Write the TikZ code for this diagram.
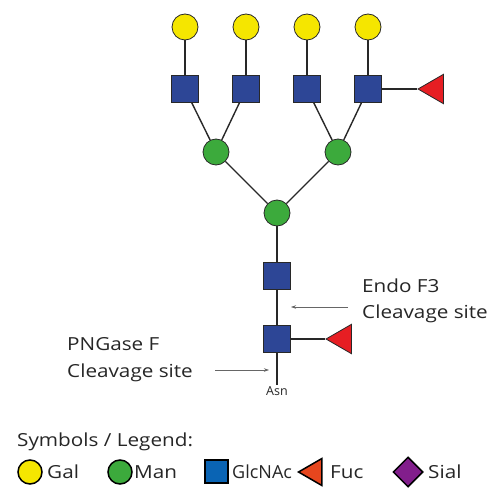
\documentclass[tikz,border=0pt]{standalone}
\usepackage{fontspec}
\setmainfont{Open Sans}[FakeStretch=1.15]
\newfontfamily\asnfont{Open Sans}
\usetikzlibrary{shapes.geometric,arrows.meta}
\definecolor{galY}{RGB}{245,230,0}
\definecolor{manG}{RGB}{60,170,60}
\definecolor{glcB}{RGB}{45,70,150}
\definecolor{fucR}{RGB}{230,30,35}
\definecolor{legB}{RGB}{10,100,180}
\definecolor{legR}{RGB}{230,70,30}
\definecolor{sialP}{RGB}{130,30,140}
\definecolor{lineG}{RGB}{40,40,40}
\tikzset{
  gal/.style={circle,fill=galY,draw=lineG,line width=0.8pt,minimum size=26pt,inner sep=0pt},
  man/.style={circle,fill=manG,draw=lineG,line width=0.8pt,minimum size=26pt,inner sep=0pt},
  glc/.style={rectangle,fill=glcB,draw=lineG,line width=0.8pt,minimum size=26.5pt,inner sep=0pt},
  fuc/.style={regular polygon,regular polygon sides=3,shape border rotate=90,fill=fucR,draw=lineG,line width=0.8pt,inner sep=0pt,minimum size=34pt},
  bond/.style={draw=lineG,line width=1.4pt},
  cut/.style={draw=gray!80!black,line width=0.6pt,-{Stealth[length=5pt,width=3.5pt]}},
  lbl/.style={font=\fontsize{18}{22}\selectfont,anchor=base west,inner sep=0pt,text=black!85},
  lgal/.style={circle,fill=galY,draw=black,line width=1.5pt,minimum size=24pt,inner sep=0pt},
  lman/.style={circle,fill=manG,draw=black,line width=1.5pt,minimum size=24pt,inner sep=0pt},
  lglc/.style={rectangle,fill=legB,draw=black,line width=1.5pt,minimum size=23pt,inner sep=0pt},
  lfuc/.style={regular polygon,regular polygon sides=3,shape border rotate=90,fill=legR,draw=black,line width=1.5pt,inner sep=0pt,minimum size=31pt},
  lsia/.style={diamond,fill=sialP,draw=black,line width=1.5pt,inner sep=0pt,minimum width=30pt,minimum height=30pt}
}
\begin{document}
\begin{tikzpicture}[x=1pt,y=-1pt]
\useasboundingbox (0,0) rectangle (500,500);
% top Gal
\node[gal] (g1) at (185,27) {};
\node[gal] (g2) at (246,27) {};
\node[gal] (g3) at (307,27) {};
\node[gal] (g4) at (368,27) {};
% GlcNAc row
\node[glc] (n1) at (185,89) {};
\node[glc] (n2) at (246,89) {};
\node[glc] (n3) at (307,89) {};
\node[glc] (n4) at (368,89) {};
\node[fuc] (f1) at (435,89) {};
% Man
\node[man] (m1) at (216,152) {};
\node[man] (m2) at (338,152) {};
\node[man] (m3) at (277,213) {};
% core
\node[glc] (c1) at (277,276) {};
\node[glc] (c2) at (277,339) {};
\node[fuc] (f2) at (343,339) {};
\coordinate (asnend) at (277,385);
\node[font=\asnfont\fontsize{12.5}{14}\selectfont,anchor=base,inner sep=0pt,text=black!85] (asn) at (277,395) {Asn};
% bonds
\draw[bond] (g1) -- (n1);
\draw[bond] (g2) -- (n2);
\draw[bond] (g3) -- (n3);
\draw[bond] (g4) -- (n4);
\draw[bond] (n4.east) -- (f1.west);
\draw[bond] (n1) -- (m1);
\draw[bond] (n2) -- (m1);
\draw[bond] (n3) -- (m2);
\draw[bond] (n4) -- (m2);
\draw[bond] (m1) -- (m3);
\draw[bond] (m2) -- (m3);
\draw[bond] (m3) -- (c1);
\draw[bond] (c1) -- (c2);
\draw[bond] (c2.east) -- (f2.west);
\draw[bond] (c2) -- (asnend);
% cleavage labels
\node[lbl] (endo1) at (362,292) {Endo F3};
\node[lbl] (endo2) at (362,318) {Cleavage site};
\coordinate (endoS) at (348,307);
\coordinate (endoT) at (291,307);
\draw[cut] (endoS) -- (endoT);
\node[lbl] (png1) at (67,350) {PNGase F};
\node[lbl] (png2) at (67,377) {Cleavage site};
\coordinate (pngS) at (215,370);
\coordinate (pngT) at (269,370);
\draw[cut] (pngS) -- (pngT);
% legend
\node[lbl] (legtitle) at (17,446) {Symbols / Legend:};
\node[lgal] (lg) at (30,472) {};
\node[lbl,anchor=west] (lgt) at (47,472) {Gal};
\node[lman] (lm) at (120,472) {};
\node[lbl,anchor=west] (lmt) at (134,472) {Man};
\node[lglc] (ln) at (216.5,471.5) {};
\node[lbl,anchor=west,font=\asnfont\fontsize{18}{22}\selectfont] (lnt) at (232,472) {GlcNAc};
\node[lfuc] (lf) at (314,472) {};
\node[lbl,anchor=west] (lft) at (330,472) {Fuc};
\node[lsia] (ls) at (408,472) {};
\node[lbl,anchor=west] (lst) at (428,472) {Sial};
\end{tikzpicture}
\end{document}
